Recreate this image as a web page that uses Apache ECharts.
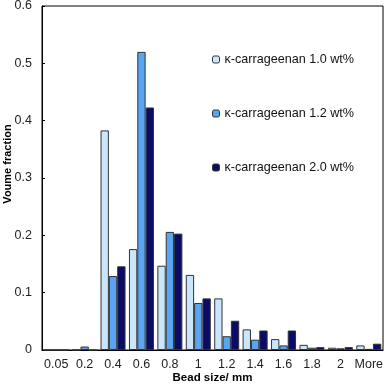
<!DOCTYPE html>
<html lang="en">
<head>
    <meta charset="UTF-8">
    <script type="text/javascript" src="https://cdn.jsdelivr.net/npm/echarts@6/dist/echarts.min.js"></script>
    <title>Bead size distribution</title>
</head>
<body style="margin:0">
<div id="main" style="width: 387px;height:386px;"></div>
<script type="text/javascript">
    // bead size classes (mm)
    var size_arr = ['0.05', '0.2', '0.4', '0.6', '0.8', '1', '1.2', '1.4', '1.6', '1.8', '2', 'More'];
    // volume fraction per class
    var wt10_arr = [0, 0, 0.383, 0.176, 0.147, 0.131, 0.090, 0.036, 0.019, 0.009, 0.004, 0.008];
    var wt12_arr = [0, 0.006, 0.129, 0.520, 0.206, 0.082, 0.024, 0.018, 0.008, 0.004, 0.003, 0.002];
    var wt20_arr = [0, 0, 0.146, 0.423, 0.203, 0.090, 0.051, 0.034, 0.034, 0.005, 0.005, 0.011];
    var name_arr = ['κ-carrageenan 1.0 wt%', 'κ-carrageenan 1.2 wt%', 'κ-carrageenan 2.0 wt%'];
    var color_arr = ['#c9e6fb', '#5aa5f3', '#0b0b68'];

    var myChart = echarts.init(document.getElementById('main'));
    var font = 'Liberation Sans';

    function bar(i, data) {
        return {
            name: name_arr[i],
            type: 'bar',
            data: data,
            barGap: '0%',
            barCategoryGap: '12%',
            itemStyle: {color: color_arr[i], borderColor: '#333', borderWidth: 1}
        };
    }

    var option = {
        animation: false,
        textStyle: {fontFamily: font},
        grid: {left: 42, top: 6, right: 4, bottom: 36, show: true, borderColor: '#000', borderWidth: 1,
            containLabel: false, outerBoundsMode: 'none'},
        legend: {
            orient: 'vertical',
            left: 212,
            top: 53,
            padding: 0,
            itemWidth: 7,
            itemHeight: 7,
            itemGap: 41,
            data: name_arr,
            textStyle: {fontFamily: font, fontSize: 12.6, color: '#111'},
            itemStyle: {borderColor: '#333', borderWidth: 1}
        },
        xAxis: {
            type: 'category',
            data: size_arr,
            name: 'Bead size/ mm',
            nameLocation: 'middle',
            nameGap: 22,
            nameMoveOverlap: false,
            nameTextStyle: {fontFamily: font, fontSize: 11.5, fontWeight: 'bold', color: '#000'},
            axisLine: {lineStyle: {color: '#000'}},
            axisTick: {length: 4, lineStyle: {color: '#000'}},
            axisLabel: {fontFamily: font, fontSize: 12.5, color: '#222', margin: 8, interval: 0}
        },
        yAxis: {
            type: 'value',
            min: 0,
            max: 0.6,
            interval: 0.1,
            name: 'Voume fraction',
            nameLocation: 'middle',
            nameGap: 29,
            nameMoveOverlap: false,
            nameTextStyle: {fontFamily: font, fontSize: 11, fontWeight: 'bold', color: '#000', padding: [0, 0, 0, 28]},
            axisLine: {show: true, lineStyle: {color: '#000'}},
            axisTick: {show: true, inside: true, length: 3, lineStyle: {color: '#000'}},
            axisLabel: {fontFamily: font, fontSize: 12.5, color: '#222', margin: 10},
            splitLine: {show: false}
        },
        series: [bar(0, wt10_arr), bar(1, wt12_arr), bar(2, wt20_arr)]
    };
    myChart.setOption(option);
</script>
</body>
</html>
